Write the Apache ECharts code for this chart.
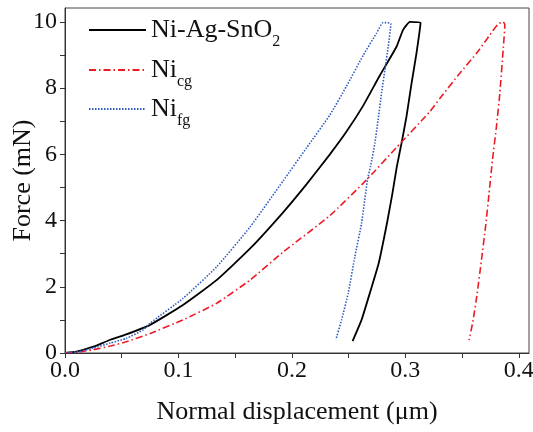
<!DOCTYPE html>
<html>
<head>
<meta charset="utf-8">
<script src="https://cdn.jsdelivr.net/npm/echarts@6/dist/echarts.min.js"></script>
<style>
html,body{margin:0;padding:0;background:#fff;}
#main{width:533px;height:432px;}
</style>
</head>
<body>
<div id="main"></div>
<script>
// series names
var names=['Ni-Ag-SnO2','Nicg','Nifg'];
// Ni-Ag-SnO2 : loading then unloading
var agX=[0,0.01,0.025,0.04,0.054,0.075,0.104,0.1336,0.163,0.1923,0.213,0.2335,0.248,0.263,0.2775,0.2922,0.298,0.304,0.3134,
	0.3098,0.3055,0.301,0.2966,0.2925,0.2885,0.2838,0.2765,0.2695,0.2614,0.2535];
var agY=[0,0.04,0.19,0.4,0.56,0.85,1.45,2.2,3.15,4.25,5.1,6.0,6.68,7.48,8.38,9.25,9.76,10.0,9.98,
	9.05,8.15,7.14,6.33,5.63,4.8,3.92,2.71,1.9,1.0,0.36];
// Ni cg
var cgX=[0,0.01,0.025,0.04,0.054,0.075,0.104,0.1336,0.163,0.1923,0.2335,0.2658,0.292,0.3216,0.3304,0.348,0.3627,0.3744,0.3818,0.3862,0.3877,
	0.3862,0.3833,0.3803,0.3768,0.3738,0.3707,0.3671,0.3633,0.3598,0.3562];
var cgY=[0,0.02,0.1,0.21,0.34,0.59,1.0,1.5,2.2,3.05,4.15,5.23,6.2,7.29,7.69,8.45,9.05,9.6,9.94,10.0,9.91,
	9.15,7.85,6.84,5.83,4.82,3.82,2.81,1.8,1.0,0.39];
// Ni fg
var fgX=[0,0.01,0.025,0.04,0.054,0.069,0.075,0.104,0.1336,0.163,0.1923,0.213,0.2335,0.248,0.263,0.2746,0.2804,0.2872,
	0.2849,0.282,0.279,0.276,0.2731,0.2693,0.2667,0.2614,0.2555,0.2496,0.2438,0.2388];
var fgY=[0,0.03,0.15,0.3,0.44,0.7,0.9,1.65,2.6,3.8,5.2,6.2,7.19,8.05,9.0,9.66,9.98,9.95,
	9.25,8.55,7.85,7.04,6.33,5.63,5.25,3.92,2.91,1.8,1.0,0.41];
// ticks
var xTicks=[0,0.05,0.1,0.15,0.2,0.25,0.3,0.35,0.4];
var xLabels=[0,0.1,0.2,0.3,0.4];
var yTicks=[0,1,2,3,4,5,6,7,8,9,10];
var yLabels=[0,2,4,6,8,10];

function pairs(xs,ys){
	var d=[];
	for(var i=0;i<xs.length;i++) d.push([xs[i],ys[i]]);
	return d;
}

var font='Liberation Serif';
var colors=['#000000','#ec1c24','#2f5cc0'];
var dashes=['solid',[7,3,1.5,3],[1.5,1.5]];
var widths=[1.8,1.6,1.6];
var sets=[pairs(agX,agY),pairs(cgX,cgY),pairs(fgX,fgY)];
var legendTops=[12,52,91];

var myChart=echarts.init(document.getElementById('main'));
var option={
	animation:false,
	grid:{left:65,right:4,top:8,bottom:79,show:true,borderColor:'#444',borderWidth:1,outerBoundsMode:'none',containLabel:false},
	legend:[],
	xAxis:{
		type:'value',min:0,max:0.409,
		name:'Normal displacement (\u03bcm)',nameLocation:'middle',nameGap:46,nameMoveOverlap:false,
		nameTextStyle:{fontFamily:font,fontSize:26,color:'#111'},
		axisLine:{lineStyle:{color:'#333',width:1}},
		axisTick:{inside:false,length:5,customValues:xTicks,lineStyle:{color:'#333'}},
		axisLabel:{customValues:xLabels,margin:6,fontFamily:font,fontSize:24,color:'#111',
			formatter:function(v){return v.toFixed(1);}},
		splitLine:{show:false}
	},
	yAxis:{
		type:'value',min:0,max:10.42,
		name:'Force (mN)',nameLocation:'middle',nameGap:29,nameMoveOverlap:false,
		nameTextStyle:{fontFamily:font,fontSize:26,color:'#111'},
		axisLine:{show:true,lineStyle:{color:'#333',width:1}},
		axisTick:{show:true,inside:false,length:5,customValues:yTicks,lineStyle:{color:'#333'}},
		axisLabel:{customValues:yLabels,margin:8,fontFamily:font,fontSize:24,color:'#111'},
		splitLine:{show:false}
	},
	series:[]
};
for(var i=0;i<names.length;i++){
	option.series.push({
		name:names[i],
		type:'line',
		symbol:'none',
		showSymbol:false,
		smooth:0.15,
		color:colors[i],
		lineStyle:{color:colors[i],width:widths[i],type:dashes[i]},
		data:sets[i]
	});
	option.legend.push({
		data:[names[i]],
		orient:'vertical',
		left:83,top:legendTops[i],
		itemWidth:57,itemHeight:14,
		itemStyle:{opacity:0},
		formatter:function(n){
			if(n==='Ni-Ag-SnO2') return '{n|Ni-Ag-SnO}{s|2}';
			if(n==='Nicg') return '{n|Ni}{s|cg}';
			return '{n|Ni}{s|fg}';
		},
		textStyle:{
			fontFamily:font,color:'#111',
			rich:{
				n:{fontFamily:font,fontSize:26,color:'#111'},
				s:{fontFamily:font,fontSize:16,color:'#111',padding:[24,0,0,0]}
			}
		}
	});
}
myChart.setOption(option);
</script>
</body>
</html>
